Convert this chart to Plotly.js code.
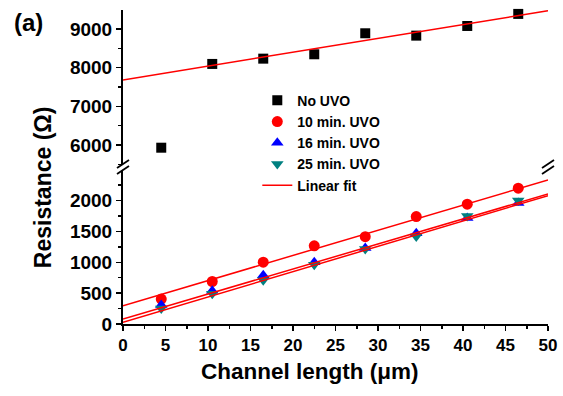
<!DOCTYPE html>
<html>
<head>
<meta charset="utf-8">
<script src="https://cdn.plot.ly/plotly-3.0.1.min.js"></script>
<style>html,body{margin:0;padding:0;background:#fff;}#chart{width:563px;height:396px;}</style>
</head>
<body>
<div id="chart"></div>
<script>
// ---- data ----
const channelLength = [4.5, 10.5, 16.5, 22.5, 28.5, 34.5, 40.5, 46.5];
const noUVO  = [5930, 8096, 8233, 8346, 8889, 8828, 9078, 9390];
const uvo10  = [404, 689, 1003, 1267, 1415, 1741, 1942, 2202];
const uvo16  = [310, 540, 790, 1000, 1230, 1470, 1720, 1960];
const uvo25  = [250, 490, 710, 960, 1215, 1420, 1750, 2000];
// linear fit lines: value at x = 0 and x = 50
const fitX     = [0, 50];
const fitStart = [7682, 296, 81, 26];
const fitEnd   = [9473, 2335, 2108, 2081];
const fitAxis  = ['y2', 'y', 'y', 'y'];
const seriesNames = ['No UVO', '10 min. UVO', '16 min. UVO', '25 min. UVO'];
const xTicks = [0, 5, 10, 15, 20, 25, 30, 35, 40, 45, 50];
const lowerTicks = [0, 500, 1000, 1500, 2000];
const lowerMinor = [250, 750, 1250, 1750, 2250];
const upperTicks = [6000, 7000, 8000, 9000];
const upperMinor = [5500, 6500, 7500, 8500, 9500];

const FONT = 'Liberation Sans, Arial, Helvetica, sans-serif';
const traces = [];
const mk = (name, y, axis, symbol, color, size) => ({
  type: 'scatter', mode: 'markers', name: name, x: channelLength, y: y,
  xaxis: 'x', yaxis: axis, cliponaxis: false,
  marker: {symbol: symbol, color: color, size: size, line: {width: 0}}
});
traces.push(mk(seriesNames[0], noUVO, 'y2', 'square', '#000000', 10));
traces.push(mk(seriesNames[1], uvo10, 'y', 'circle', '#ff0000', 11));
traces.push(mk(seriesNames[2], uvo16, 'y', 'triangle-up', '#0000ff', 11));
traces.push(mk(seriesNames[3], uvo25, 'y', 'triangle-down', '#008080', 11));
for (let i = 0; i < fitStart.length; i++) {
  traces.push({
    type: 'scatter', mode: 'lines', name: 'Linear fit', showlegend: i === 0,
    x: fitX, y: [fitStart[i], fitEnd[i]], xaxis: 'x', yaxis: fitAxis[i],
    line: {color: '#ff0000', width: 1.5}
  });
}

const tickFont = {family: FONT, size: 19, color: '#000', weight: 700};
const minorOut = (vals) => ({tickvals: vals, ticks: 'outside', ticklen: 3, tickwidth: 1.5, tickcolor: '#000', showgrid: false});
const baseAx = {
  showline: true, linecolor: '#000', linewidth: 2, zeroline: false, showgrid: false,
  ticks: 'outside', ticklen: 5, tickwidth: 1.5, tickcolor: '#000', tickfont: tickFont
};
const layout = {
  width: 563, height: 396,
  margin: {l: 123, r: 15, t: 9.5, b: 71.7, pad: 0},
  paper_bgcolor: '#fff', plot_bgcolor: '#fff',
  font: {family: FONT, color: '#000'},
  showlegend: true,
  legend: {
    x: 0.316, y: 0.762, xanchor: 'left', yanchor: 'top',
    bgcolor: 'rgba(0,0,0,0)', borderwidth: 0, tracegroupgap: 0,
    font: {family: FONT, size: 14, color: '#000', weight: 700}
  },
  xaxis: Object.assign({}, baseAx, {
    range: [0, 50], domain: [0, 1], anchor: 'y', tickmode: 'array', tickvals: xTicks, ticktext: xTicks.map(String),
    tickfont: {family: FONT, size: 17, color: '#000', weight: 700},
    minor: {dtick: 2.5, ticks: 'outside', ticklen: 3, tickwidth: 1.5, tickcolor: '#000', showgrid: false}
  }),
  xaxis2: {
    overlaying: 'x', side: 'top', anchor: 'y2', range: [0, 50], showline: true, linecolor: '#000', linewidth: 2,
    ticks: 'inside', ticklen: 4, tickwidth: 1.5, tickcolor: '#000', dtick: 5, showticklabels: false,
    showgrid: false, zeroline: false,
    minor: {dtick: 2.5, ticks: 'inside', ticklen: 3, tickwidth: 1.5, tickcolor: '#000', showgrid: false}
  },
  yaxis: Object.assign({}, baseAx, {
    domain: [0, 0.5], range: [0, 2545], tickmode: 'array', tickvals: lowerTicks, ticktext: lowerTicks.map(String),
    anchor: 'x', minor: minorOut(lowerMinor)
  }),
  yaxis2: Object.assign({}, baseAx, {
    domain: [0.5, 1], range: [5431, 9491], tickmode: 'array', tickvals: upperTicks, ticktext: upperTicks.map(String),
    anchor: 'x', minor: minorOut(upperMinor)
  }),
  yaxis3: {
    overlaying: 'y', side: 'right', anchor: 'x', range: [0, 2545], tickmode: 'array', tickvals: lowerTicks,
    showline: true, linecolor: '#000', linewidth: 2, ticks: 'inside', ticklen: 4, tickwidth: 1.5, tickcolor: '#000',
    showticklabels: false, showgrid: false, zeroline: false
  },
  yaxis4: {
    overlaying: 'y2', side: 'right', anchor: 'x', range: [5431, 9491], tickmode: 'array', tickvals: upperTicks,
    showline: true, linecolor: '#000', linewidth: 2, ticks: 'inside', ticklen: 4, tickwidth: 1.5, tickcolor: '#000',
    showticklabels: false, showgrid: false, zeroline: false
  },
  annotations: [
    {text: 'Resistance (Ω)', xref: 'paper', yref: 'paper', x: -0.188, y: 0.436,
     xanchor: 'center', yanchor: 'middle', textangle: -90, showarrow: false,
     font: {family: FONT, size: 23, color: '#000', weight: 700}},
    {text: 'Channel length (μm)', xref: 'paper', yref: 'paper', x: 0.44, y: -0.151,
     xanchor: 'center', yanchor: 'middle', showarrow: false,
     font: {family: FONT, size: 22.5, color: '#000', weight: 700}},
    {text: '(a)', xref: 'paper', yref: 'paper', x: -0.2235, y: 0.96,
     xanchor: 'center', yanchor: 'middle', showarrow: false,
     font: {family: FONT, size: 24, color: '#000', weight: 700}}
  ],
  shapes: []
};
// axis break marks
[0, 1].forEach(px => {
  const common = {type: 'line', xref: 'paper', yref: 'paper', xsizemode: 'pixel', ysizemode: 'pixel',
                  xanchor: px, yanchor: 0.5, layer: 'above'};
  layout.shapes.push(Object.assign({}, common, {x0: -6, x1: 6, y0: -4, y1: 4, line: {color: '#fff', width: 4}}));
  layout.shapes.push(Object.assign({}, common, {x0: -6, x1: 6, y0: -7, y1: 1, line: {color: '#000', width: 1.8}}));
  layout.shapes.push(Object.assign({}, common, {x0: -6, x1: 6, y0: -1, y1: 7, line: {color: '#000', width: 1.8}}));
});

Plotly.newPlot('chart', traces, layout, {staticPlot: true, displayModeBar: false});
</script>
</body>
</html>
